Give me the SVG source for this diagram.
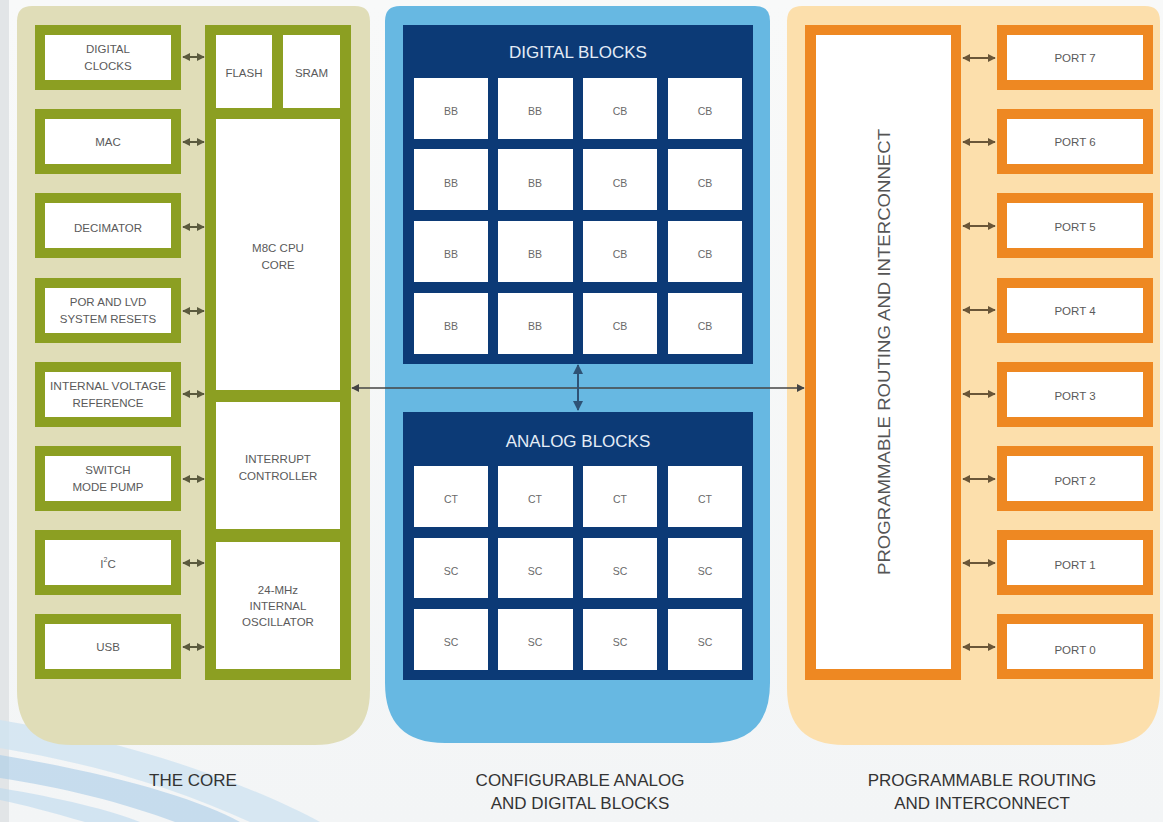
<svg xmlns="http://www.w3.org/2000/svg" width="1163" height="822" viewBox="0 0 1163 822">
<defs>
<style>
.lbl{font-family:"Liberation Sans",Arial,sans-serif;font-size:11.5px;fill:#5a5a5a;text-anchor:middle;dominant-baseline:central}
.cell{font-family:"Liberation Sans",Arial,sans-serif;font-size:10.5px;fill:#6a6a6a;text-anchor:middle;dominant-baseline:central}
.ttl{font-family:"Liberation Sans",Arial,sans-serif;font-size:17px;fill:#e4ecf6;text-anchor:middle;dominant-baseline:central}
.cap{font-family:"Liberation Sans",Arial,sans-serif;font-size:17px;fill:#333;text-anchor:middle;dominant-baseline:central}
.gbox{fill:#fff;stroke:#8c9f22;stroke-width:10}
.obox{fill:#fff;stroke:#ee8822;stroke-width:10}
.wcell{fill:#fff}
.ar{stroke:#5b5a3e;stroke-width:2;fill:none;marker-start:url(#ah);marker-end:url(#ah)}
.ar2{stroke:#6a5638;stroke-width:2;fill:none;marker-start:url(#ah2);marker-end:url(#ah2)}
</style>
<marker id="ah" viewBox="0 0 10 10" refX="9" refY="5" markerWidth="4" markerHeight="4" orient="auto-start-reverse"><path d="M0,0 L10,5 L0,10 z" fill="#5b5a3e"/></marker>
<marker id="ah2" viewBox="0 0 10 10" refX="9" refY="5" markerWidth="4" markerHeight="4" orient="auto-start-reverse"><path d="M0,0 L10,5 L0,10 z" fill="#6a5638"/></marker>
<marker id="bh" viewBox="0 0 10 10" refX="9" refY="5" markerWidth="6" markerHeight="6" orient="auto-start-reverse"><path d="M0,0 L10,5 L0,10 z" fill="#444"/></marker>
<marker id="vh" viewBox="0 0 10 10" refX="9" refY="5" markerWidth="5" markerHeight="5" orient="auto-start-reverse"><path d="M0,0 L10,5 L0,10 z" fill="#2e5275"/></marker>
<linearGradient id="bg" x1="0" y1="0" x2="0" y2="1"><stop offset="0" stop-color="#f8f9f9"/><stop offset="1" stop-color="#f3f5f6"/></linearGradient>
</defs>

<g id="background">
<rect width="1163" height="822" fill="url(#bg)"/>
<rect x="0" y="0" width="9" height="822" fill="#e2e5e7"/>
<path d="M0,720 C150,745 260,790 320,822 L250,822 C180,790 100,765 0,748 z" fill="#cfe3f1" opacity="0.8"/>
<path d="M0,755 C120,775 200,800 240,822 L175,822 C125,803 60,787 0,778 z" fill="#a9cce8" opacity="0.6"/>
<path d="M0,788 C60,798 110,810 140,822 L85,822 C50,812 25,805 0,800 z" fill="#bcd8ee" opacity="0.6"/>
</g>

<g id="panel-core">
<path d="M32,6 H355 Q370,6 370,21 V690 Q370,745 315,745 H72 Q17,745 17,690 V21 Q17,6 32,6 z" fill="#e0ddb8"/>
</g>
<g id="panel-blocks">
<path d="M400,6 H755 Q770,6 770,21 V683 Q770,743 710,743 H445 Q385,743 385,683 V21 Q385,6 400,6 z" fill="#67b8e2"/>
</g>
<g id="panel-routing">
<path d="M802,6 H1145 Q1160,6 1160,21 V688 Q1160,745 1103,745 H844 Q787,745 787,688 V21 Q787,6 802,6 z" fill="#fcdfac"/>
</g>

<g id="digital-clocks"><rect class="gbox" x="40" y="30" width="136" height="55"/><text class="lbl" x="108" y="49">DIGITAL</text><text class="lbl" x="108" y="66">CLOCKS</text></g>
<g id="mac"><rect class="gbox" x="40" y="114" width="136" height="55"/><text class="lbl" x="108" y="142">MAC</text></g>
<g id="decimator"><rect class="gbox" x="40" y="198" width="136" height="55"/><text class="lbl" x="108" y="228">DECIMATOR</text></g>
<g id="por-lvd"><rect class="gbox" x="40" y="283" width="136" height="55"/><text class="lbl" x="108" y="302">POR AND LVD</text><text class="lbl" x="108" y="319">SYSTEM RESETS</text></g>
<g id="int-vref"><rect class="gbox" x="40" y="367" width="136" height="55"/><text class="lbl" x="108" y="386" textLength="116" lengthAdjust="spacingAndGlyphs">INTERNAL VOLTAGE</text><text class="lbl" x="108" y="403">REFERENCE</text></g>
<g id="smp"><rect class="gbox" x="40" y="451" width="136" height="55"/><text class="lbl" x="108" y="470">SWITCH</text><text class="lbl" x="108" y="487">MODE PUMP</text></g>
<g id="i2c"><rect class="gbox" x="40" y="535" width="136" height="55"/><text class="lbl" x="108" y="564">I<tspan font-size="7" dy="-5">2</tspan><tspan dy="5">C</tspan></text></g>
<g id="usb"><rect class="gbox" x="40" y="619" width="136" height="55"/><text class="lbl" x="108" y="647">USB</text></g>

<g id="cpu-column">
<rect x="205" y="25" width="146" height="655" fill="#8c9f22"/>
<rect class="wcell" x="216" y="35" width="56" height="73"/>
<rect class="wcell" x="283" y="35" width="57" height="73"/>
<rect class="wcell" x="216" y="119" width="124" height="271"/>
<rect class="wcell" x="216" y="402" width="124" height="127"/>
<rect class="wcell" x="216" y="542" width="124" height="127"/>
<text class="lbl" x="244" y="73">FLASH</text>
<text class="lbl" x="311.5" y="73">SRAM</text>
<text class="lbl" x="278" y="248">M8C CPU</text>
<text class="lbl" x="278" y="265">CORE</text>
<text class="lbl" x="278" y="459">INTERRUPT</text>
<text class="lbl" x="278" y="476">CONTROLLER</text>
<text class="lbl" x="278" y="590">24-MHz</text>
<text class="lbl" x="278" y="606">INTERNAL</text>
<text class="lbl" x="278" y="622">OSCILLATOR</text>
</g>

<g id="digital-blocks">
<rect x="403" y="25" width="350" height="339" fill="#0c3a76"/>
<text class="ttl" x="578" y="52">DIGITAL BLOCKS</text>
<g>
<rect class="wcell" x="414" y="78" width="74" height="61"/><rect class="wcell" x="498" y="78" width="75" height="61"/><rect class="wcell" x="583" y="78" width="74" height="61"/><rect class="wcell" x="668" y="78" width="74" height="61"/>
<rect class="wcell" x="414" y="149" width="74" height="61"/><rect class="wcell" x="498" y="149" width="75" height="61"/><rect class="wcell" x="583" y="149" width="74" height="61"/><rect class="wcell" x="668" y="149" width="74" height="61"/>
<rect class="wcell" x="414" y="221" width="74" height="61"/><rect class="wcell" x="498" y="221" width="75" height="61"/><rect class="wcell" x="583" y="221" width="74" height="61"/><rect class="wcell" x="668" y="221" width="74" height="61"/>
<rect class="wcell" x="414" y="293" width="74" height="61"/><rect class="wcell" x="498" y="293" width="75" height="61"/><rect class="wcell" x="583" y="293" width="74" height="61"/><rect class="wcell" x="668" y="293" width="74" height="61"/>
</g>
<g>
<text class="cell" x="451" y="111">BB</text><text class="cell" x="535" y="111">BB</text><text class="cell" x="620" y="111">CB</text><text class="cell" x="705" y="111">CB</text>
<text class="cell" x="451" y="183">BB</text><text class="cell" x="535" y="183">BB</text><text class="cell" x="620" y="183">CB</text><text class="cell" x="705" y="183">CB</text>
<text class="cell" x="451" y="254">BB</text><text class="cell" x="535" y="254">BB</text><text class="cell" x="620" y="254">CB</text><text class="cell" x="705" y="254">CB</text>
<text class="cell" x="451" y="326">BB</text><text class="cell" x="535" y="326">BB</text><text class="cell" x="620" y="326">CB</text><text class="cell" x="705" y="326">CB</text>
</g>
</g>

<g id="analog-blocks">
<rect x="403" y="412" width="350" height="268" fill="#0c3a76"/>
<text class="ttl" x="578" y="441">ANALOG BLOCKS</text>
<g>
<rect class="wcell" x="414" y="466" width="74" height="61"/><rect class="wcell" x="498" y="466" width="75" height="61"/><rect class="wcell" x="583" y="466" width="74" height="61"/><rect class="wcell" x="668" y="466" width="74" height="61"/>
<rect class="wcell" x="414" y="538" width="74" height="60"/><rect class="wcell" x="498" y="538" width="75" height="60"/><rect class="wcell" x="583" y="538" width="74" height="60"/><rect class="wcell" x="668" y="538" width="74" height="60"/>
<rect class="wcell" x="414" y="609" width="74" height="61"/><rect class="wcell" x="498" y="609" width="75" height="61"/><rect class="wcell" x="583" y="609" width="74" height="61"/><rect class="wcell" x="668" y="609" width="74" height="61"/>
</g>
<g>
<text class="cell" x="451" y="499">CT</text><text class="cell" x="535" y="499">CT</text><text class="cell" x="620" y="499">CT</text><text class="cell" x="705" y="499">CT</text>
<text class="cell" x="451" y="571">SC</text><text class="cell" x="535" y="571">SC</text><text class="cell" x="620" y="571">SC</text><text class="cell" x="705" y="571">SC</text>
<text class="cell" x="451" y="642">SC</text><text class="cell" x="535" y="642">SC</text><text class="cell" x="620" y="642">SC</text><text class="cell" x="705" y="642">SC</text>
</g>
</g>

<g id="routing">
<rect x="805" y="25" width="156" height="655" fill="#ee8822"/>
<rect class="wcell" x="816" y="35" width="135" height="634"/>
<text class="lbl" x="0" y="0" transform="translate(884,352) rotate(-90)" style="font-size:16px;fill:#555" textLength="446" lengthAdjust="spacingAndGlyphs">PROGRAMMABLE ROUTING AND INTERCONNECT</text>
</g>

<g id="port7"><rect class="obox" x="1002" y="30" width="146" height="55"/><text class="lbl" x="1075" y="58">PORT 7</text></g>
<g id="port6"><rect class="obox" x="1002" y="114" width="146" height="55"/><text class="lbl" x="1075" y="142">PORT 6</text></g>
<g id="port5"><rect class="obox" x="1002" y="198" width="146" height="55"/><text class="lbl" x="1075" y="227">PORT 5</text></g>
<g id="port4"><rect class="obox" x="1002" y="283" width="146" height="55"/><text class="lbl" x="1075" y="311">PORT 4</text></g>
<g id="port3"><rect class="obox" x="1002" y="367" width="146" height="55"/><text class="lbl" x="1075" y="396">PORT 3</text></g>
<g id="port2"><rect class="obox" x="1002" y="451" width="146" height="55"/><text class="lbl" x="1075" y="481">PORT 2</text></g>
<g id="port1"><rect class="obox" x="1002" y="535" width="146" height="55"/><text class="lbl" x="1075" y="565">PORT 1</text></g>
<g id="port0"><rect class="obox" x="1002" y="619" width="146" height="55"/><text class="lbl" x="1075" y="650">PORT 0</text></g>

<g id="connectors">
<line class="ar" x1="183" y1="57" x2="204" y2="57"/>
<line class="ar" x1="183" y1="142" x2="204" y2="142"/>
<line class="ar" x1="183" y1="227" x2="204" y2="227"/>
<line class="ar" x1="183" y1="311" x2="204" y2="311"/>
<line class="ar" x1="183" y1="394" x2="204" y2="394"/>
<line class="ar" x1="183" y1="479" x2="204" y2="479"/>
<line class="ar" x1="183" y1="563" x2="204" y2="563"/>
<line class="ar" x1="183" y1="647" x2="204" y2="647"/>
<line class="ar2" x1="963" y1="58" x2="995" y2="58"/>
<line class="ar2" x1="963" y1="142" x2="995" y2="142"/>
<line class="ar2" x1="963" y1="226" x2="995" y2="226"/>
<line class="ar2" x1="963" y1="310" x2="995" y2="310"/>
<line class="ar2" x1="963" y1="394" x2="995" y2="394"/>
<line class="ar2" x1="963" y1="479" x2="995" y2="479"/>
<line class="ar2" x1="963" y1="563" x2="995" y2="563"/>
<line class="ar2" x1="963" y1="647" x2="995" y2="647"/>
<line x1="352" y1="388" x2="804" y2="388" stroke="#444" stroke-width="1.3" marker-start="url(#bh)" marker-end="url(#bh)"/>
<line x1="578" y1="365" x2="578" y2="410" stroke="#2e5275" stroke-width="2" marker-start="url(#vh)" marker-end="url(#vh)"/>
</g>

<g id="captions">
<text class="cap" x="193" y="780">THE CORE</text>
<text class="cap" x="580" y="780">CONFIGURABLE ANALOG</text>
<text class="cap" x="580" y="803">AND DIGITAL BLOCKS</text>
<text class="cap" x="982" y="780">PROGRAMMABLE ROUTING</text>
<text class="cap" x="982" y="803">AND INTERCONNECT</text>
</g>
</svg>
